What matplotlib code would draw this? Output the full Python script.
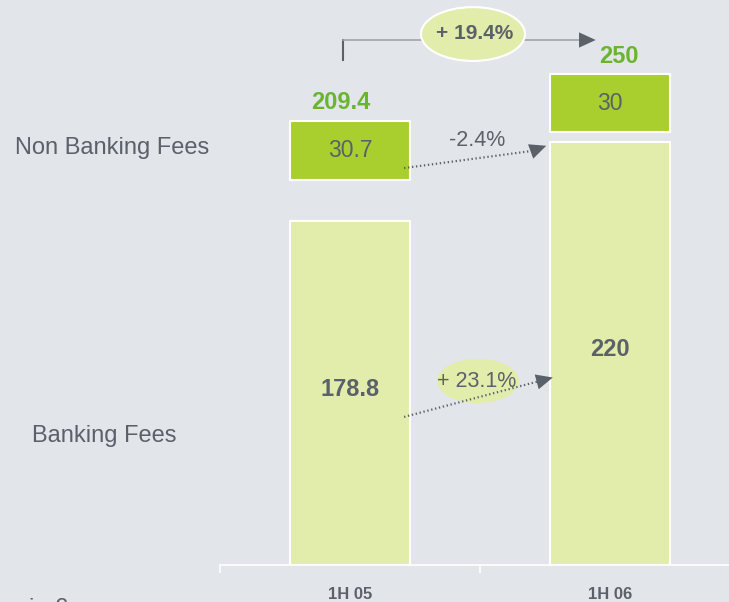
import matplotlib.pyplot as plt
from matplotlib.patches import Ellipse

plt.rcParams["font.family"] = ["Liberation Sans", "DejaVu Sans"]

categories = ["1H 05", "1H 06"]
banking_fees = [178.8, 220]
non_banking_fees = [30.7, 30]
totals = [209.4, 250]
banking_growth = "+ 23.1%"
non_banking_growth = "-2.4%"
total_growth = "+ 19.4%"
row_labels = ["Non Banking Fees", "Banking Fees"]
unit_label = "in € m"

# visual gap between the two stacked segments (chart units)
segment_gap = [21.4, 5.2]

BG = "#E2E5EA"
LIGHT = "#E2EDAB"
DARK = "#A8CF2D"
GREEN_TXT = "#6BB52E"
GRAY = "#5B6169"
HEAD = "-|>,head_length=1.2,head_width=0.55"

fig = plt.figure(figsize=(7.29, 6.02), dpi=100, facecolor=BG)
ax = fig.add_axes([220 / 729, 37 / 602, 520 / 729, 565 / 602])
ax.set_facecolor(BG)
ax.set_xlim(-0.5, 1.5)
ax.set_ylim(0, 293.8)

x = list(range(len(categories)))
width = 0.458
nb_bottom = [b + g for b, g in zip(banking_fees, segment_gap)]

ax.bar(x, banking_fees, width, color=LIGHT, edgecolor="white", linewidth=1.5)
ax.bar(x, non_banking_fees, width, bottom=nb_bottom, color=DARK,
       edgecolor="white", linewidth=1.5)

for i in x:
    ax.text(i, banking_fees[i] / 2 + 2, f"{banking_fees[i]:g}", ha="center",
            va="center", fontsize=17, fontweight="bold", color=GRAY)
    ax.text(i, nb_bottom[i] + non_banking_fees[i] / 2, f"{non_banking_fees[i]:g}",
            ha="center", va="center", fontsize=16.5, color=GRAY)
    top = nb_bottom[i] + non_banking_fees[i]
    ax.annotate(f"{totals[i]:g}", (i - 0.035 + 0.07 * i, top), xytext=(0, 13),
                textcoords="offset points", ha="center", va="center",
                fontsize=17, fontweight="bold", color=GREEN_TXT)


def head(ax, start, end):
    ax.annotate("", xy=end, xytext=start,
                arrowprops=dict(arrowstyle=HEAD, color=GRAY, lw=0,
                                shrinkA=0, shrinkB=0), zorder=5)


# total growth arrow on top
ax.plot([-0.027, -0.027], [262.6, 273], color=GRAY, lw=1.5)
ax.plot([-0.027, 0.90], [273, 273], color="#A0A4AA", lw=1.2)
head(ax, (0.88, 273), (0.945, 273))
ax.add_patch(Ellipse((0.473, 276.1), 0.40, 28, facecolor=LIGHT,
                     edgecolor="white", lw=1.5, zorder=3))
ax.text(0.48, 276.5, total_growth, ha="center", va="center", fontsize=15,
        fontweight="bold", color=GRAY, zorder=4)

# non banking growth arrow
ax.plot([0.208, 0.71], [206.4, 215.5], color=GRAY, lw=1.6,
        linestyle=(0, (0.6, 1.2)))
head(ax, (0.70, 215.3), (0.755, 218))
ax.text(0.488, 220.5, non_banking_growth, ha="center", va="center",
        fontsize=15.5, color=GRAY)

# banking growth arrow
ax.add_patch(Ellipse((0.492, 95.7), 0.315, 23, facecolor=LIGHT,
                     edgecolor="none", zorder=2))
ax.text(0.488, 95.2, banking_growth, ha="center", va="center",
        fontsize=15.5, color=GRAY, zorder=3)
ax.plot([0.208, 0.73], [77, 95.7], color=GRAY, lw=1.6,
        linestyle=(0, (0.6, 1.2)), zorder=4)
head(ax, (0.72, 95.3), (0.78, 97.5))

# axes styling
for side in ["top", "right", "left"]:
    ax.spines[side].set_visible(False)
ax.spines["bottom"].set_color("white")
ax.spines["bottom"].set_linewidth(1.2)
ax.set_yticks([])
ax.set_xticks(x)
ax.set_xticklabels(categories, fontsize=12, fontweight="bold", color=GRAY)
ax.tick_params(axis="x", which="major", length=0, pad=16)
ax.set_xticks([-0.5, 0.5, 1.5], minor=True)
ax.tick_params(axis="x", which="minor", length=6, width=1.2, color="white",
               direction="out")

fig.text(15 / 729, 1 - 148 / 602, row_labels[0], ha="left", va="center",
         fontsize=17, color=GRAY)
fig.text(32 / 729, 1 - 436 / 602, row_labels[1], ha="left", va="center",
         fontsize=17, color=GRAY)
fig.text(29 / 729, 1 - 598 / 602, unit_label, ha="left", va="top",
         fontsize=17, color=GRAY)

fig.savefig("out.png", dpi=100, facecolor=BG)
